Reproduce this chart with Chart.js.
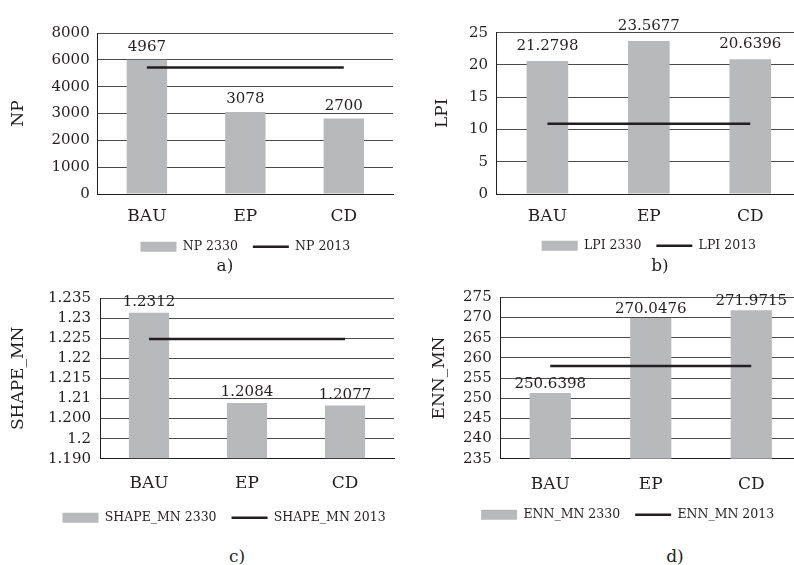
<!DOCTYPE html>
<html>
<head>
<meta charset="utf-8">
<script src="https://cdn.jsdelivr.net/npm/chart.js@4.4.1/dist/chart.umd.min.js"></script>
<style>
  html, body { margin: 0; padding: 0; background: #fff; overflow: hidden; }
  body { width: 794px; height: 565px; position: relative; font-family: "DejaVu Serif", serif; color: #231f20; }
  .panel { position: absolute; }
  .cap { position: absolute; font-size: 17px; transform: translate(-50%, -50%); white-space: nowrap; }
</style>
</head>
<body>
<div class="panel" style="left:0px;top:0px;width:400px;height:263px"><canvas id="chartA"></canvas></div>
<div class="panel" style="left:400px;top:0px;width:410px;height:262px"><canvas id="chartB"></canvas></div>
<div class="panel" style="left:0px;top:280px;width:400px;height:254px"><canvas id="chartC"></canvas></div>
<div class="panel" style="left:400px;top:280px;width:410px;height:251px"><canvas id="chartD"></canvas></div>
<div class="cap" style="left:225px;top:265px">a)</div>
<div class="cap" style="left:660px;top:265px">b)</div>
<div class="cap" style="left:237px;top:556px">c)</div>
<div class="cap" style="left:675px;top:556px">d)</div>
<script>
const scenarios = ['BAU', 'EP', 'CD'];

// a) NP - printed ticks are uneven, so the axis runs in grid steps
const npTicks = ['0', '1000', '2000', '3000', '4000', '6000', '8000'];
const np2330 = [5.0, 3.06, 2.81];
const np2013 = [4.71, 4.71, 4.71];
const npLabels = ['4967', '3078', '2700'];

// b) LPI
const lpi2330 = [20.6, 23.7, 20.9];
const lpi2013 = [10.9, 10.9, 10.9];
const lpiLabels = ['21.2798', '23.5677', '20.6396'];

// c) SHAPE_MN - uneven printed ticks again, grid steps
const shapeTicks = ['1.190', '1.2', '1.200', '1.21', '1.215', '1.22', '1.225', '1.23', '1.235'];
const shape2330 = [7.27, 2.77, 2.65];
const shape2013 = [5.96, 5.96, 5.96];
const shapeLabels = ['1.2312', '1.2084', '1.2077'];

// d) ENN_MN
const enn2330 = [251.3, 269.9, 271.8];
const enn2013 = [258.0, 258.0, 258.0];
const ennLabels = ['250.6398', '270.0476', '271.9715'];

const ink = '#231f20';
const barGray = '#b8b9bb';
const serif = '"DejaVu Serif", serif';

// value labels above the bars
const barLabels = {
  id: 'barLabels',
  afterDatasetsDraw(chart, args, opts) {
    const ctx = chart.ctx;
    const meta = chart.getDatasetMeta(0);
    ctx.save();
    ctx.font = '15px ' + serif;
    ctx.fillStyle = ink;
    ctx.textAlign = 'center';
    ctx.textBaseline = 'alphabetic';
    meta.data.forEach((bar, i) => {
      ctx.fillText(opts.labels[i], bar.x, bar.y - opts.offset);
    });
    ctx.restore();
  }
};

// nudge the legend sideways
const legendShift = {
  id: 'legendShift',
  afterLayout(chart, args, opts) {
    if (opts.dx && chart.legend) {
      chart.legend.left += opts.dx;
      chart.legend.right += opts.dx;
    }
  }
};

function makeChart(id, p) {
  const yScale = {
    min: p.min, max: p.max,
    afterFit: s => { s.width = p.yWidth; },
    ticks: {
      stepSize: p.step, autoSkip: false, padding: p.tickPad, color: ink,
      font: { family: serif, size: 15 }
    },
    grid: { color: '#4a4a4a', lineWidth: 1, drawTicks: false },
    border: { display: true, color: ink, width: 1 },
    title: {
      display: true, text: p.title, color: ink,
      font: { family: serif, size: 17 },
      padding: 0
    }
  };
  if (p.tickText) yScale.ticks.callback = v => p.tickText[v];

  return new Chart(document.getElementById(id), {
    type: 'bar',
    data: {
      labels: scenarios,
      datasets: [{
        label: p.title + ' 2330',
        data: p.bars,
        backgroundColor: barGray,
        borderWidth: 0,
        categoryPercentage: 0.41,
        barPercentage: 1,
        pointStyle: 'rect',
        order: 1
      }, {
        type: 'line',
        label: p.title + ' 2013',
        data: p.line,
        borderColor: ink,
        backgroundColor: ink,
        borderWidth: 2.5,
        pointRadius: 0,
        pointStyle: 'line',
        order: 0
      }]
    },
    options: {
      responsive: true,
      maintainAspectRatio: false,
      animation: false,
      layout: { padding: { left: p.padL, right: p.padR, top: p.padT, bottom: 0 } },
      scales: {
        x: {
          afterFit: s => { s.height = p.xHeight; },
          ticks: { color: ink, padding: p.xPad, font: { family: serif, size: 17 } },
          grid: { display: false, drawTicks: false },
          border: { display: true, color: ink, width: 1 }
        },
        y: yScale
      },
      plugins: {
        tooltip: { enabled: false },
        legend: {
          position: 'bottom',
          fullSize: p.legFull,
          labels: {
            color: ink,
            font: { family: serif, size: 12.5 },
            usePointStyle: true,
            pointStyleWidth: 36,
            boxHeight: 10,
            padding: 15,
            sort: (a, b) => a.datasetIndex - b.datasetIndex
          }
        },
        legendShift: { dx: p.legDx },
        barLabels: { labels: p.labels, offset: p.labOff }
      }
    },
    plugins: [barLabels, legendShift]
  });
}

makeChart('chartA', {
  title: 'NP', bars: np2330, line: np2013, labels: npLabels, tickText: npTicks,
  min: 0, max: 6, step: 1,
  padL: 8.3, padR: 7, padT: 33, yWidth: 89.4, tickPad: 8,
  xPad: 12.5, xHeight: 31.5, legFull: false, legDx: 0, labOff: 9
});

makeChart('chartB', {
  title: 'LPI', bars: lpi2330, line: lpi2013, labels: lpiLabels,
  min: 0, max: 25, step: 5,
  padL: 32.3, padR: 9, padT: 32.7, yWidth: 64.4, tickPad: 8.7,
  xPad: 12, xHeight: 30.5, legFull: false, legDx: 0, labOff: 11
});

makeChart('chartC', {
  title: 'SHAPE_MN', bars: shape2330, line: shape2013, labels: shapeLabels, tickText: shapeTicks,
  min: 0, max: 8, step: 1,
  padL: 8.1, padR: 6, padT: 16, yWidth: 91.9, tickPad: 9,
  xPad: 14.8, xHeight: 37.75, legFull: true, legDx: 23, labOff: 7
});

makeChart('chartD', {
  title: 'ENN_MN', bars: enn2330, line: enn2013, labels: ennLabels,
  min: 235, max: 275, step: 5,
  padL: 29.8, padR: 8.5, padT: 15, yWidth: 70.2, tickPad: 8.3,
  xPad: 15.8, xHeight: 34.75, legFull: true, legDx: 12, labOff: 5
});
</script>
</body>
</html>
